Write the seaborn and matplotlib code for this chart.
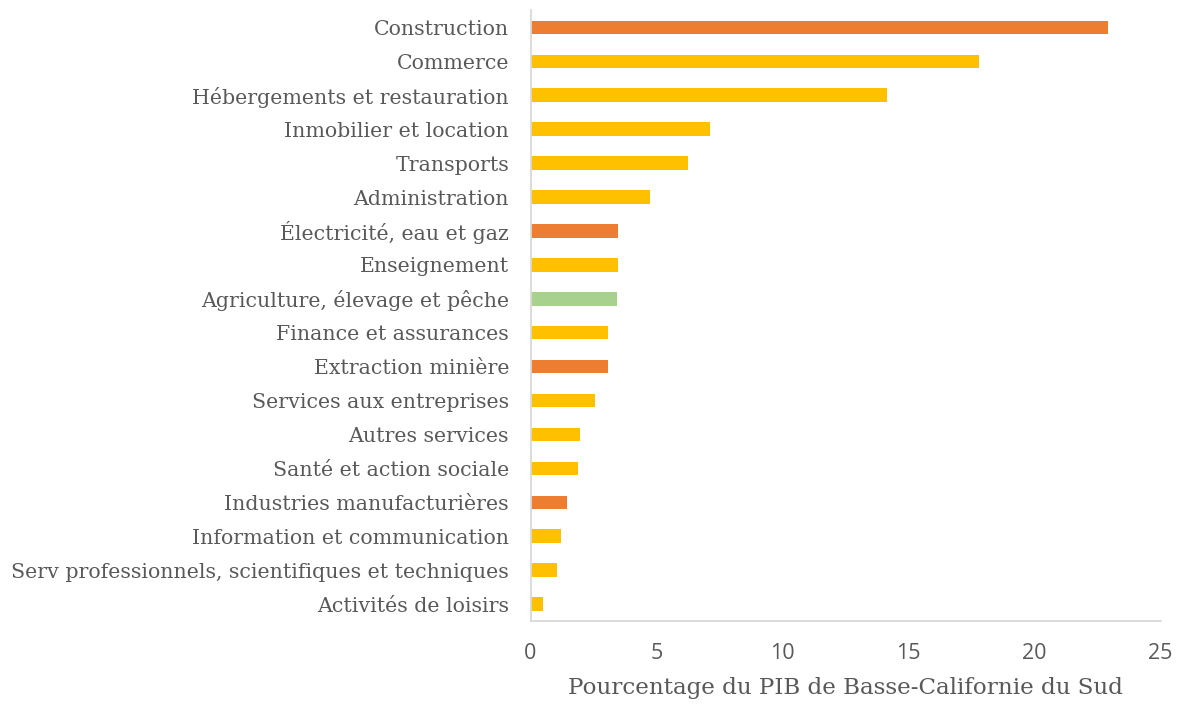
import matplotlib
matplotlib.use("Agg")
import matplotlib.pyplot as plt
import seaborn as sns
import pandas as pd

categories = [
    "Construction", "Commerce", "Hébergements et restauration",
    "Inmobilier et location", "Transports", "Administration",
    "Électricité, eau et gaz", "Enseignement", "Agriculture, élevage et pêche",
    "Finance et assurances", "Extraction minière", "Services aux entreprises",
    "Autres services", "Santé et action sociale", "Industries manufacturières",
    "Information et communication",
    "Serv professionnels, scientifiques et techniques", "Activités de loisirs",
]
values = [22.92, 17.80, 14.15, 7.12, 6.25, 4.74, 3.47, 3.47, 3.43,
          3.08, 3.08, 2.56, 1.96, 1.88, 1.45, 1.21, 1.05, 0.50]
sector_type = ["secondary", "tertiary", "tertiary", "tertiary", "tertiary", "tertiary",
               "secondary", "tertiary", "primary", "tertiary", "secondary", "tertiary",
               "tertiary", "tertiary", "secondary", "tertiary", "tertiary", "tertiary"]
type_colors = {"primary": "#A9D18E", "secondary": "#ED7D31", "tertiary": "#FFC000"}
xticks = [0, 5, 10, 15, 20, 25]
xlabel = "Pourcentage du PIB de Basse-Californie du Sud"

df = pd.DataFrame({"cat": categories, "val": values, "type": sector_type})

sns.set_theme(style="white")
fig = plt.figure(figsize=(11.8, 7.04), dpi=100)
ax = fig.add_axes([0.4496, 0.1179, 0.9835 - 0.4496, 0.9851 - 0.1179])

sns.barplot(data=df, y="cat", x="val", hue="type", palette=type_colors,
            order=categories, orient="h", width=0.4, dodge=False,
            legend=False, ax=ax, saturation=1, linewidth=0)

text_col = "#595959"
ax.set_xlim(0, 25)
ax.set_ylim(len(categories) - 0.5, -0.5)
ax.set_xticks(xticks)
ax.set_xticklabels([str(t) for t in xticks], fontsize=15.5,
                   family="Open Sans", color=text_col)
ax.set_yticks(range(len(categories)))
ax.set_yticklabels(categories, fontsize=14.8, family="DejaVu Serif", color=text_col)
ax.tick_params(axis="y", length=0, pad=15.5)
ax.tick_params(axis="x", length=0, pad=16)
ax.set_ylabel("")
ax.set_xlabel(xlabel, fontsize=16.6, family="DejaVu Serif", color=text_col, labelpad=9)

for s in ["top", "right"]:
    ax.spines[s].set_visible(False)
for s in ["left", "bottom"]:
    ax.spines[s].set_color("#D9D9D9")
    ax.spines[s].set_linewidth(1.3)

fig.savefig("out.png", dpi=100, facecolor="white")
